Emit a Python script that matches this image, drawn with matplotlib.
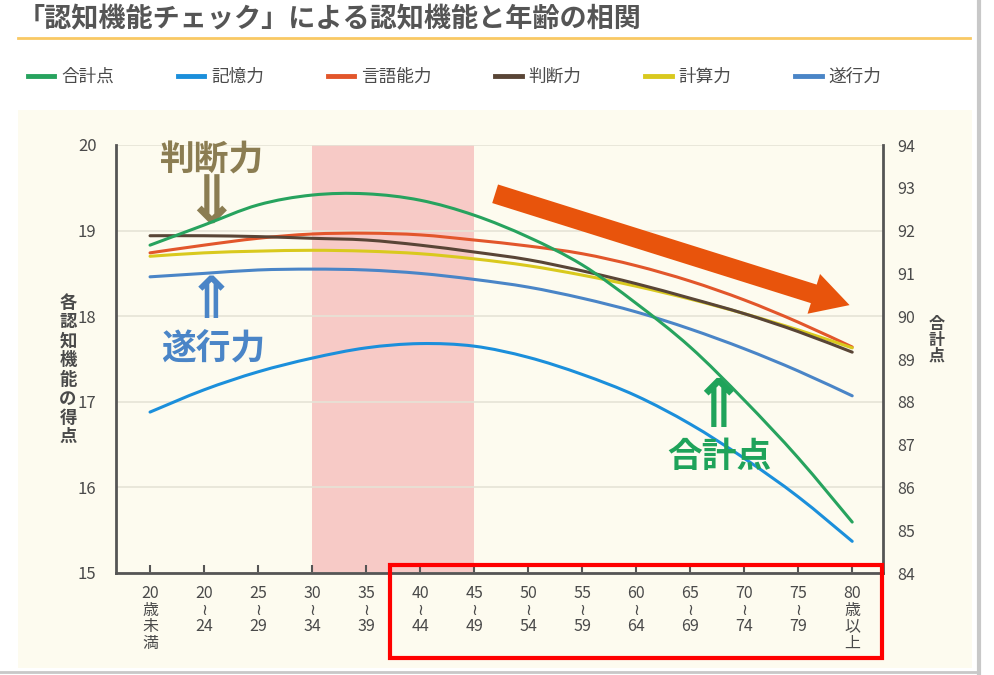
import matplotlib
matplotlib.use("Agg")
import matplotlib.pyplot as plt
from matplotlib.patches import Rectangle, PathPatch
from matplotlib.lines import Line2D
from matplotlib.path import Path

plt.rcParams['font.family'] = ['Noto Sans CJK JP', 'DejaVu Sans']

# age groups (x categories)
age_labels = ['20\n歳\n未\n満', '20\n≀\n24', '25\n≀\n29', '30\n≀\n34', '35\n≀\n39',
              '40\n≀\n44', '45\n≀\n49', '50\n≀\n54', '55\n≀\n59', '60\n≀\n64',
              '65\n≀\n69', '70\n≀\n74', '75\n≀\n79', '80\n歳\n以\n上']

# right axis: total score
total = [91.66, 92.13, 92.60, 92.83, 92.86, 92.71, 92.36, 91.85, 91.20, 90.30,
         89.28, 88.04, 86.69, 85.19]
# left axis: each cognitive function
memory = [16.88, 17.14, 17.35, 17.51, 17.63, 17.68, 17.65, 17.52, 17.32, 17.07,
          16.74, 16.34, 15.89, 15.37]
language = [18.74, 18.83, 18.91, 18.96, 18.97, 18.95, 18.89, 18.82, 18.73, 18.59,
            18.41, 18.19, 17.93, 17.64]
judgment = [18.94, 18.94, 18.93, 18.91, 18.89, 18.83, 18.75, 18.66, 18.53, 18.38,
            18.21, 18.03, 17.82, 17.58]
calculation = [18.70, 18.74, 18.76, 18.77, 18.76, 18.73, 18.67, 18.59, 18.48, 18.35,
               18.20, 18.03, 17.84, 17.63]
execution = [18.46, 18.50, 18.54, 18.55, 18.54, 18.50, 18.43, 18.34, 18.21, 18.05,
             17.85, 17.62, 17.36, 17.07]

series_names = ['合計点', '記憶力', '言語能力', '判断力', '計算力', '遂行力']
series_colors = ['#27a35e', '#1b8fdb', '#e2562b', '#594536', '#d9c91e', '#4a85c7']

left_ticks = [15, 16, 17, 18, 19, 20]
right_ticks = [84, 85, 86, 87, 88, 89, 90, 91, 92, 93, 94]

cream = '#fdfbef'
text_gray = '#4a4a4a'

W, H = 995, 675
fig = plt.figure(figsize=(W / 100, H / 100), dpi=100, facecolor='white')


def fx(px):
    return px / W


def fy(py):
    return (H - py) / H


def smooth_line(a, xs, ys, color, lw=2.2, z=3):
    # draw a smooth curve through the points (Catmull-Rom as cubic bezier)
    n = len(xs)
    verts = [(xs[0], ys[0])]
    codes = [Path.MOVETO]
    for i in range(n - 1):
        x0, y0 = (xs[i - 1], ys[i - 1]) if i > 0 else (xs[i], ys[i])
        x1, y1 = xs[i], ys[i]
        x2, y2 = xs[i + 1], ys[i + 1]
        x3, y3 = (xs[i + 2], ys[i + 2]) if i + 2 < n else (x2, y2)
        c1 = (x1 + (x2 - x0) / 6.0, y1 + (y2 - y0) / 6.0)
        c2 = (x2 - (x3 - x1) / 6.0, y2 - (y3 - y1) / 6.0)
        verts += [c1, c2, (x2, y2)]
        codes += [Path.CURVE4] * 3
    a.add_patch(PathPatch(Path(verts, codes), fill=False, edgecolor=color, lw=lw,
                          capstyle='round', zorder=z))


# cream panel behind the chart
fig.add_artist(Rectangle((fx(18), fy(668)), fx(972) - fx(18), fy(110) - fy(668),
                         transform=fig.transFigure, facecolor=cream, edgecolor='none', zorder=0))
# screenshot edges
fig.add_artist(Line2D([fx(979), fx(979)], [0, 1], transform=fig.transFigure, color='#c8c8c8', lw=3))
fig.add_artist(Line2D([0, fx(979)], [fy(672), fy(672)], transform=fig.transFigure, color='#c8c8c8', lw=2))

# title + underline
fig.text(fx(18), fy(19), '「認知機能チェック」による認知機能と年齢の相関', fontsize=19.5,
         fontweight='bold', color='#555555', ha='left', va='center')
fig.add_artist(Line2D([fx(18), fx(970)], [fy(38), fy(38)], transform=fig.transFigure,
                      color='#f9c964', lw=2))

ax = fig.add_axes([fx(116), fy(573), fx(883) - fx(116), fy(145) - fy(573)])
ax.set_facecolor(cream)
ax2 = ax.twinx()

x = list(range(len(age_labels)))
ax.axvspan(3, 6, color='#f7cac6', zorder=0, lw=0)

smooth_line(ax, x, memory, series_colors[1])
smooth_line(ax, x, execution, series_colors[5])
smooth_line(ax, x, language, series_colors[2])
smooth_line(ax, x, calculation, series_colors[4])
smooth_line(ax, x, judgment, series_colors[3])
smooth_line(ax2, x, total, series_colors[0])

ax.set_xlim(-0.63, 13.57)
ax.set_ylim(15, 20)
ax2.set_ylim(84, 94)
ax.set_yticks(left_ticks)
ax2.set_yticks(right_ticks)
ax.set_xticks(x)
ax.set_xticklabels(age_labels, fontsize=11.5, color=text_gray, linespacing=0.95)
ax.tick_params(axis='x', direction='in', length=6, width=1.5, color='#555555', pad=9)
ax.tick_params(axis='y', length=0, pad=14, labelsize=12, labelcolor=text_gray)
ax2.tick_params(axis='y', length=0, pad=10, labelsize=11.5, labelcolor=text_gray)

ax.grid(axis='y', color='#e6e3d6', lw=1.2)
ax.set_axisbelow(True)

for a in (ax, ax2):
    a.spines['top'].set_visible(False)
    for s in ('left', 'right', 'bottom'):
        a.spines[s].set_color('#555555')
        a.spines[s].set_linewidth(2)
ax.spines['right'].set_visible(False)
ax2.spines['left'].set_visible(False)
ax2.spines['bottom'].set_visible(False)

# axis labels written vertically
fig.text(fx(68), fy(370), '各\n認\n知\n機\n能\nの\n得\n点', fontsize=12.5, fontweight='bold',
         color=text_gray, ha='center', va='center', linespacing=1.08)
fig.text(fx(937), fy(340), '合\n計\n点', fontsize=11.5, fontweight='bold',
         color=text_gray, ha='center', va='center', linespacing=1.0)

# annotations
arrow_font = ['DejaVu Sans']
ax.text(1.15, 19.82, '判断力', fontsize=25, fontweight='bold', color='#8b7d52',
        ha='center', va='center')
ax.text(1.13, 19.30, '⇓', fontsize=48, fontweight='bold', family=arrow_font,
        color='#8b7d52', ha='center', va='center')
ax.text(1.13, 18.17, '⇑', fontsize=42, fontweight='bold', family=arrow_font,
        color='#4a85c7', ha='center', va='center')
ax.text(1.17, 17.62, '遂行力', fontsize=25, fontweight='bold', color='#4a85c7',
        ha='center', va='center')
ax.text(10.52, 16.93, '⇑', fontsize=48, fontweight='bold', family=arrow_font,
        color='#1fa35a', ha='center', va='center')
ax.text(10.55, 16.36, '合計点', fontsize=25, fontweight='bold', color='#1fa35a',
        ha='center', va='center')

ax.annotate('', xy=(13.0, 18.12), xytext=(6.34, 19.44),
            arrowprops=dict(arrowstyle='simple,head_width=3.0,head_length=2.7,tail_width=1.4',
                            color='#e8540c', lw=0), zorder=5)

# legend
handles = [Line2D([0], [0], color=c, lw=3.5) for c in series_colors]
fig.legend(handles, series_names, loc='center left', bbox_to_anchor=(fx(28), fy(77)),
           ncol=6, frameon=False, fontsize=12.7, handlelength=1.5, handletextpad=0.4,
           columnspacing=3.6, borderpad=0, borderaxespad=0, labelcolor=text_gray)

# red highlight box
fig.add_artist(Rectangle((fx(390), fy(658)), fx(882) - fx(390), fy(565) - fy(658),
                         transform=fig.transFigure, fill=False, edgecolor='#ff0000', lw=3, zorder=10))

fig.savefig('out.png', dpi=100)
